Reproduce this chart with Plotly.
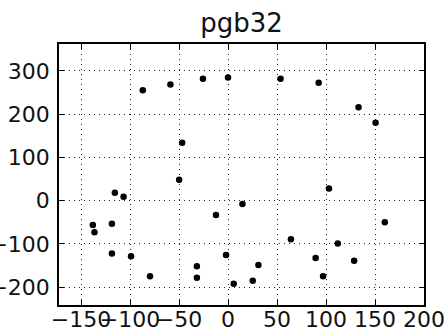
import plotly.graph_objects as go

# point coordinates
xs = [-87, -58.8, -25.6, 0, 53.6, 92.5, 133.2, 150.6, -46.8,
      -49.9, -115.5, -106.6, 103, 14.7, -12.3, 160, -138, -136.3, -118.5,
      64.2, 112, -118.5, -99, -2, 89.4, 128.7, -31.8, 31, -79.6, -31.8,
      97, 25.2, 5.8]
ys = [255, 268.6, 281.8, 284.8, 281.8, 272.5, 216, 180, 134,
      48.5, 18.5, 9, 28.4, -7.8, -33, -50, -56, -73, -53,
      -89, -99, -122, -128.6, -125.6, -132.5, -138.6, -151.7, -148.7, -174.8, -177.8,
      -174.8, -184.8, -191.7]

x_ticks = [-150, -100, -50, 0, 50, 100, 150, 200]
y_ticks = [-200, -100, 0, 100, 200, 300]

fig = go.Figure(go.Scatter(
    x=xs, y=ys, mode="markers",
    marker=dict(color="black", size=6.5),
))

axis_common = dict(
    showline=True, linecolor="black", linewidth=1.5, mirror="ticks",
    ticks="inside", ticklen=5, tickcolor="black", tickwidth=1,
    showgrid=True, gridcolor="#222", griddash="1px,4px", gridwidth=1,
    zeroline=False, tickfont=dict(family="DejaVu Sans", size=22, color="#111"),
    tickangle=0, automargin=False,
)

fig.update_layout(
    width=447, height=335,
    margin=dict(l=59, r=23, t=44, b=30),
    paper_bgcolor="white", plot_bgcolor="white",
    showlegend=False,
    title=dict(text="pgb32", x=241.5 / 447, xanchor="center",
               y=1 - 23 / 335, yanchor="middle",
               font=dict(family="DejaVu Sans", size=26, color="#111")),
    xaxis=dict(range=[-172.5, 200], tickvals=x_ticks, ticklabelstandoff=-6,
               **axis_common),
    yaxis=dict(range=[-241, 362], tickvals=y_ticks, ticklabelstandoff=3,
               **axis_common),
)

fig.write_html("out.html")
